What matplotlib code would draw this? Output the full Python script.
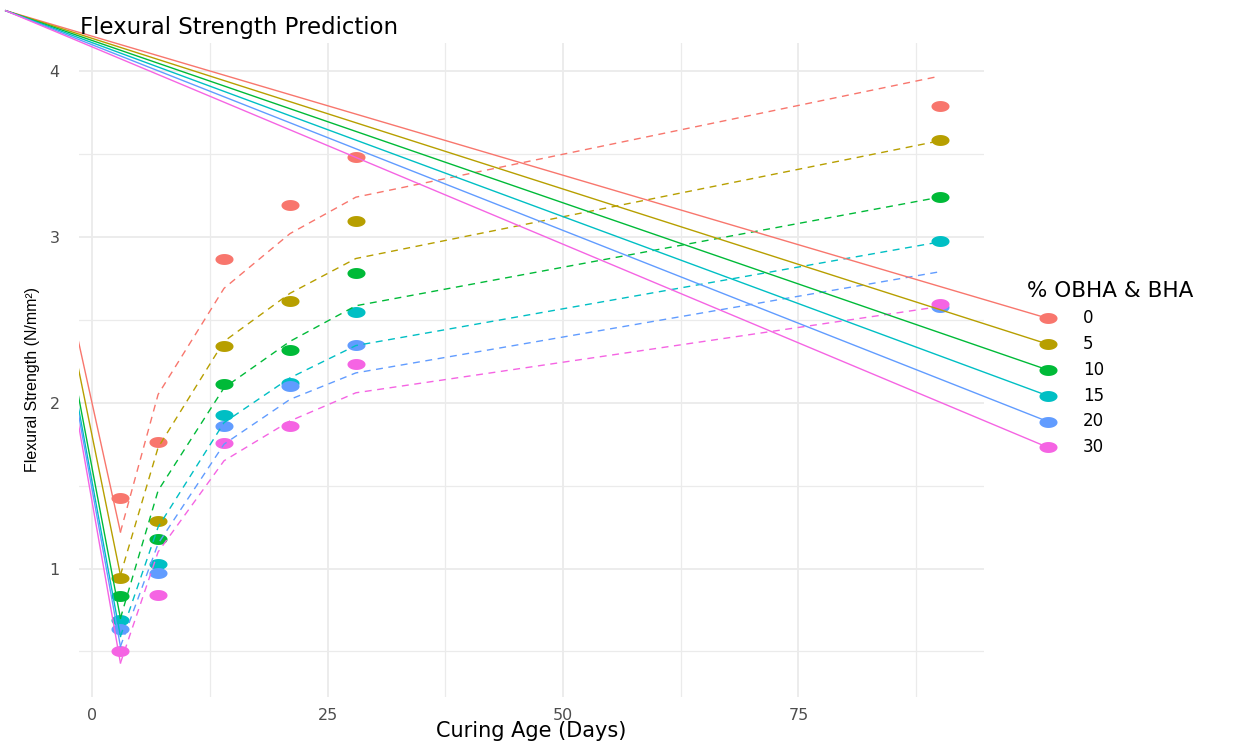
import matplotlib
matplotlib.use('Agg')
import matplotlib.pyplot as plt
from matplotlib.path import Path
from matplotlib.lines import Line2D
import numpy as np

# ---------------- data ----------------
days = [3, 7, 14, 21, 28, 90]
groups = ['0', '5', '10', '15', '20', '30']
colors = ['#F8766D', '#B79F00', '#00BA38', '#00BFC4', '#619CFF', '#F564E3']

# observed flexural strength (points)
obs_0 = [1.425, 1.764, 2.868, 3.190, 3.485, 3.787]
obs_5 = [0.940, 1.284, 2.345, 2.612, 3.098, 3.582]
obs_10 = [0.837, 1.180, 2.112, 2.321, 2.783, 3.243]
obs_15 = [0.690, 1.028, 1.925, 2.120, 2.550, 2.978]
obs_20 = [0.634, 0.972, 1.862, 2.100, 2.347, 2.575]
obs_30 = [0.500, 0.841, 1.759, 1.862, 2.231, 2.595]

# predicted flexural strength (dashed lines)
pred_0 = [1.22, 2.05, 2.69, 3.02, 3.24, 3.97]
pred_5 = [0.96, 1.73, 2.37, 2.66, 2.87, 3.58]
pred_10 = [0.70, 1.47, 2.09, 2.37, 2.585, 3.24]
pred_15 = [0.59, 1.25, 1.88, 2.15, 2.345, 2.97]
pred_20 = [0.53, 1.15, 1.75, 2.02, 2.18, 2.79]
pred_30 = [0.43, 1.10, 1.65, 1.89, 2.06, 2.58]

observed = [obs_0, obs_5, obs_10, obs_15, obs_20, obs_30]
predicted = [pred_0, pred_5, pred_10, pred_15, pred_20, pred_30]

x_ticks = [0, 25, 50, 75]
y_ticks = [1, 2, 3, 4]

title = 'Flexural Strength Prediction'
x_label = 'Curing Age (Days)'
y_label = 'Flexural Strength (N/mm²)'
legend_title = '% OBHA & BHA'

# ---------------- figure ----------------
W, H = 1233, 742
fig = plt.figure(figsize=(W / 100, H / 100), dpi=100)
fig.patch.set_facecolor('white')


def fpx(x, y):
    return (x / W, 1 - y / H)


ax = fig.add_axes([79 / W, 1 - 697 / H, (984 - 79) / W, (697 - 43) / H])
ax.set_facecolor('white')
ax.set_xlim(-1.4, 94.7)
ax.set_ylim(0.225, 4.17)
for s in ax.spines.values():
    s.set_visible(False)
ax.set_xticks(x_ticks)
ax.set_xticks([12.5, 37.5, 62.5, 87.5], minor=True)
ax.set_yticks(y_ticks)
ax.set_yticks([0.5, 1.5, 2.5, 3.5], minor=True)
ax.set_xticklabels([str(v) for v in x_ticks])
ax.set_yticklabels([str(v) for v in y_ticks])
ax.grid(which='major', color='#EBEBEB', lw=1.3)
ax.grid(which='minor', color='#EBEBEB', lw=0.9)
ax.set_axisbelow(True)
ax.tick_params(which='both', length=0)
ax.tick_params(axis='x', pad=8, labelsize=11.5, labelcolor='#4D4D4D')
ax.tick_params(axis='y', pad=14, labelsize=11.5, labelcolor='#4D4D4D')

ax.set_xlabel(x_label, fontsize=15, color='black')
ax.xaxis.set_label_coords(0.5, -0.052)
ax.xaxis.label.set_va('center')
ax.set_ylabel(y_label, fontsize=11.5, color='black',
              family=['Liberation Sans', 'DejaVu Sans'])
ax.yaxis.set_label_coords(-0.051, 0.486)
ax.yaxis.label.set_va('center')

# elliptical point marker (points look horizontally stretched)
t = np.linspace(0, 2 * np.pi, 64)
ell = Path(np.column_stack([1.65 * np.cos(t), np.sin(t)]), closed=False)

for obs, c in zip(observed, colors):
    ax.plot(days, obs, ls='none', marker=ell, ms=13, color=c, mec='none', zorder=2)
for pred, c in zip(predicted, colors):
    ax.plot(days, pred, ls=(0, (5, 4)), lw=1.0, color=c, zorder=3)

# title
fig.text(80 / W, 1 - 34.3 / H, title, fontsize=16.5, ha='left', va='baseline', color='black')

# ---------------- legend (manual) ----------------
origin = fpx(5.7, 10.7)
key_x = 1047.7
key_y0 = 318.3
key_dy = 25.8
fig.text(1027 / W, 1 - 296.7 / H, legend_title, fontsize=15.5, ha='left', va='baseline', color='black')
to_fig = fig.transFigure.inverted()
for i, (g, c, pred) in enumerate(zip(groups, colors, predicted)):
    kx, ky = fpx(key_x, key_y0 + i * key_dy)
    # line from the corner to the legend key
    l1 = Line2D([origin[0], kx], [origin[1], ky], transform=fig.transFigure,
                color=c, lw=1.0, zorder=1)
    fig.add_artist(l1)
    # line from the corner to the first predicted point (clipped to panel)
    sx, sy = to_fig.transform(ax.transData.transform((days[0], pred[0])))
    l2 = Line2D([origin[0], sx], [origin[1], sy], transform=fig.transFigure,
                color=c, lw=1.0, zorder=1)
    l2.set_clip_path(ax.patch)
    fig.add_artist(l2)
    m = Line2D([kx], [ky], transform=fig.transFigure, ls='none', marker=ell,
               ms=13, color=c, mec='none', zorder=2)
    fig.add_artist(m)
    fig.text(1083 / W, ky, g, fontsize=12, ha='left', va='center', color='black')

fig.savefig('out.png', dpi=100)
